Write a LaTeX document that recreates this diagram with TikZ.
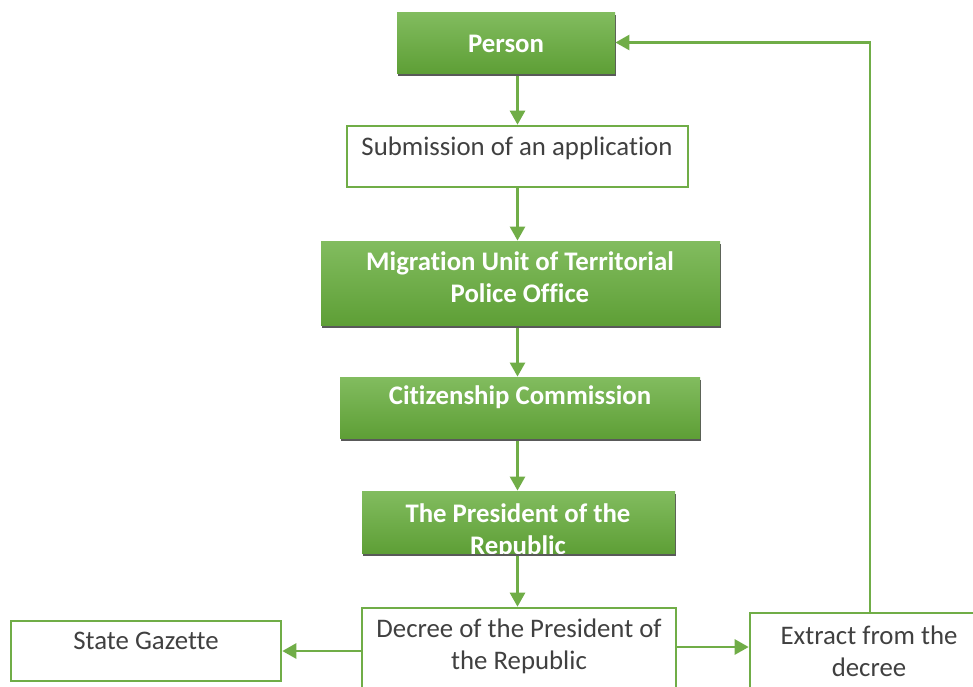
\documentclass[tikz,border=0pt]{standalone}
\usepackage{fontspec}
\setmainfont{Carlito}[Ligatures=NoCommon]
\usetikzlibrary{arrows.meta, calc, positioning, shadows}
\definecolor{flowgreen}{HTML}{70AD47}
\definecolor{gradtop}{HTML}{82BC5F}
\definecolor{gradbot}{HTML}{5E9F36}
\definecolor{shadowgray}{HTML}{595959}
\definecolor{textgray}{HTML}{404040}

\begin{document}
\begin{tikzpicture}[
        x=0.5pt, y=-0.5pt,
        font=\fontsize{13.4}{16}\selectfont,
        greenbox/.style={rectangle, top color=gradtop, bottom color=gradbot, inner sep=0pt,
            drop shadow={shadow xshift=0.5pt, shadow yshift=-1.5pt, fill=shadowgray, opacity=1}},
        whitebox/.style={rectangle, draw=flowgreen, line width=1.3pt, fill=white, inner sep=0pt},
        greentext/.style={text=white, font=\fontsize{13.4}{16}\selectfont\bfseries, align=center},
        graytext/.style={text=textgray, align=center},
        arr/.style={draw=flowgreen, line width=1.3pt, -{Triangle[length=7pt, width=7.5pt]}}
    ]
        \useasboundingbox (0,0) rectangle (973,686);
        \clip (0,0) rectangle (973,686);

        % boxes
        \node[greenbox, minimum width=109pt, minimum height=30.5pt] (person) at (506,42.5) {};
        \node[whitebox, minimum width=170.5pt, minimum height=30.5pt] (sub) at (517.5,156.5) {};
        \node[greenbox, minimum width=199.5pt, minimum height=42pt] (mig) at (520.5,283) {};
        \node[greenbox, minimum width=180pt, minimum height=30.5pt] (cit) at (520,407.5) {};
        \node[greenbox, minimum width=156.5pt, minimum height=31pt] (pres) at (518.5,522) {};
        \node[whitebox, minimum width=157pt, minimum height=45pt] (dec) at (519,653) {};
        \node[whitebox, minimum width=135pt, minimum height=30pt] (gaz) at (146,651) {};
        \node[whitebox, minimum width=120pt, minimum height=43pt] (ext) at (870,656) {};

        % texts
        \node[greentext] (person-t) at (506,44) {Person};
        \node[graytext] (sub-t) at (517,148) {Submission of an application};
        \node[greentext] (mig-t) at (520,277) {Migration Unit of Territorial\\Police Office};
        \node[greentext] (cit-t) at (520,397) {Citizenship Commission};
        \begin{scope}
            \clip (pres.south west) rectangle (pres.north east);
            \node[greentext] (pres-t) at (518,531) {The President of the\\Republic};
        \end{scope}
        \node[graytext] (dec-t) at (519,646) {Decree of the President of\\the Republic};
        \node[graytext] (gaz-t) at (146,641) {State Gazette};
        \node[graytext] (ext-t) at (869,651) {Extract from the\\decree};

        % connectors
        \draw[arr, shorten <=1.5pt] (person.south -| sub.north) -- (sub.north);
        \draw[arr] (sub.south) -- (mig.north -| sub.south);
        \draw[arr, shorten <=1.5pt] (mig.south -| sub.south) -- (cit.north -| sub.south);
        \draw[arr, shorten <=1.5pt] (cit.south -| sub.south) -- (pres.north -| sub.south);
        \draw[arr, shorten <=1.5pt] (pres.south -| sub.south) -- (dec.north -| sub.south);
        \draw[arr] (dec.west |- gaz.east) -- (gaz.east);
        \draw[arr] ([yshift=3pt]dec.east) -- ([yshift=3pt]dec.east -| ext.west);
        \draw[arr] (ext.north) |- (person.east);
    \end{tikzpicture}
\end{document}
